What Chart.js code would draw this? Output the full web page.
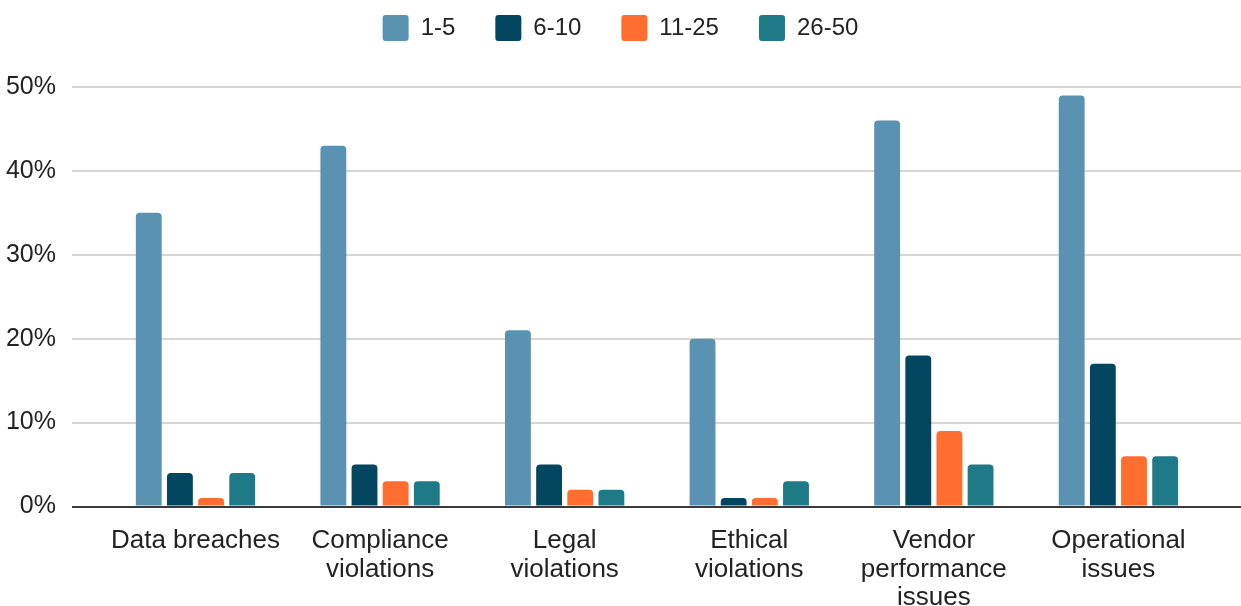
<!DOCTYPE html>
<html>
<head>
<meta charset="utf-8">
<script src="https://cdn.jsdelivr.net/npm/chart.js@4/dist/chart.umd.min.js"></script>
<style>
  html, body { margin: 0; padding: 0; background: #ffffff; }
  #wrap { width: 1241px; height: 606px; position: relative; }
</style>
</head>
<body>
<div id="wrap"><canvas id="chart"></canvas></div>
<script>
// Risk categories (each entry is the list of label lines)
const categories = [
  ["Data breaches"],
  ["Compliance", "violations"],
  ["Legal", "violations"],
  ["Ethical", "violations"],
  ["Vendor", "performance", "issues"],
  ["Operational", "issues"]
];

// Share of respondents (%) per group size
const series1to5   = [35, 43, 21, 20, 46, 49];
const series6to10  = [4, 5, 5, 1, 18, 17];
const series11to25 = [1, 3, 2, 1, 9, 6];
const series26to50 = [4, 3, 2, 3, 5, 6];

const seriesNames = ["1-5", "6-10", "11-25", "26-50"];
const yTicks = [0, 10, 20, 30, 40, 50];

const palette = ["#5A93B2", "#03465F", "#FF6D2F", "#1F7A88"];

const toPoints = (vals) => vals.map((v, i) => ({ x: i, y: v }));

const datasets = [series1to5, series6to10, series11to25, series26to50].map((vals, k) => ({
  label: seriesNames[k],
  data: toPoints(vals),
  backgroundColor: palette[k],
  borderWidth: 0,
  borderRadius: 4,
  categoryPercentage: 0.675,
  barPercentage: 0.83
}));

const FONT = "'Liberation Sans', Arial, sans-serif";
const TEXT = "#222222";

// Lift the legend row closer to the top edge without moving the plot area
const legendLift = {
  id: "legendLift",
  afterLayout(chart) {
    const lg = chart.legend;
    if (lg) { lg.top -= 36; lg.bottom -= 36; }
  }
};

new Chart(document.getElementById("chart"), {
  type: "bar",
  data: { datasets },
  plugins: [legendLift],
  options: {
    responsive: true,
    maintainAspectRatio: false,
    animation: false,
    layout: { padding: { top: 11, right: 0, bottom: 0, left: 0 } },
    plugins: {
      legend: {
        position: "top",
        labels: {
          font: { family: FONT, size: 24 },
          color: TEXT,
          boxWidth: 26,
          boxHeight: 26,
          padding: 40,
          useBorderRadius: true,
          borderRadius: 3
        }
      },
      tooltip: { enabled: false }
    },
    scales: {
      x: {
        type: "linear",
        min: -0.669,
        max: 5.664,
        offset: false,
        grid: { display: false },
        border: { display: false },
        afterBuildTicks: (scale) => {
          scale.ticks = categories.map((_, i) => ({ value: i }));
        },
        afterFit: (scale) => { scale.height = 99.5; },
        ticks: {
          autoSkip: false,
          maxRotation: 0,
          padding: 12,
          color: TEXT,
          font: { family: FONT, size: 26, lineHeight: 1.1 },
          callback: (value) => categories[value]
        }
      },
      y: {
        min: 0,
        max: 50,
        afterBuildTicks: (scale) => {
          scale.ticks = yTicks.map((v) => ({ value: v }));
        },
        afterFit: (scale) => { scale.width = 72; },
        border: { display: false },
        grid: {
          drawTicks: false,
          color: (ctx) => (ctx.tick && ctx.tick.value === 0 ? "#3a3a3a" : "#d6d6d6"),
          lineWidth: 2
        },
        ticks: {
          padding: 16,
          color: TEXT,
          font: { family: FONT, size: 25 },
          callback: (value) => value + "%"
        }
      }
    }
  }
});
</script>
</body>
</html>
